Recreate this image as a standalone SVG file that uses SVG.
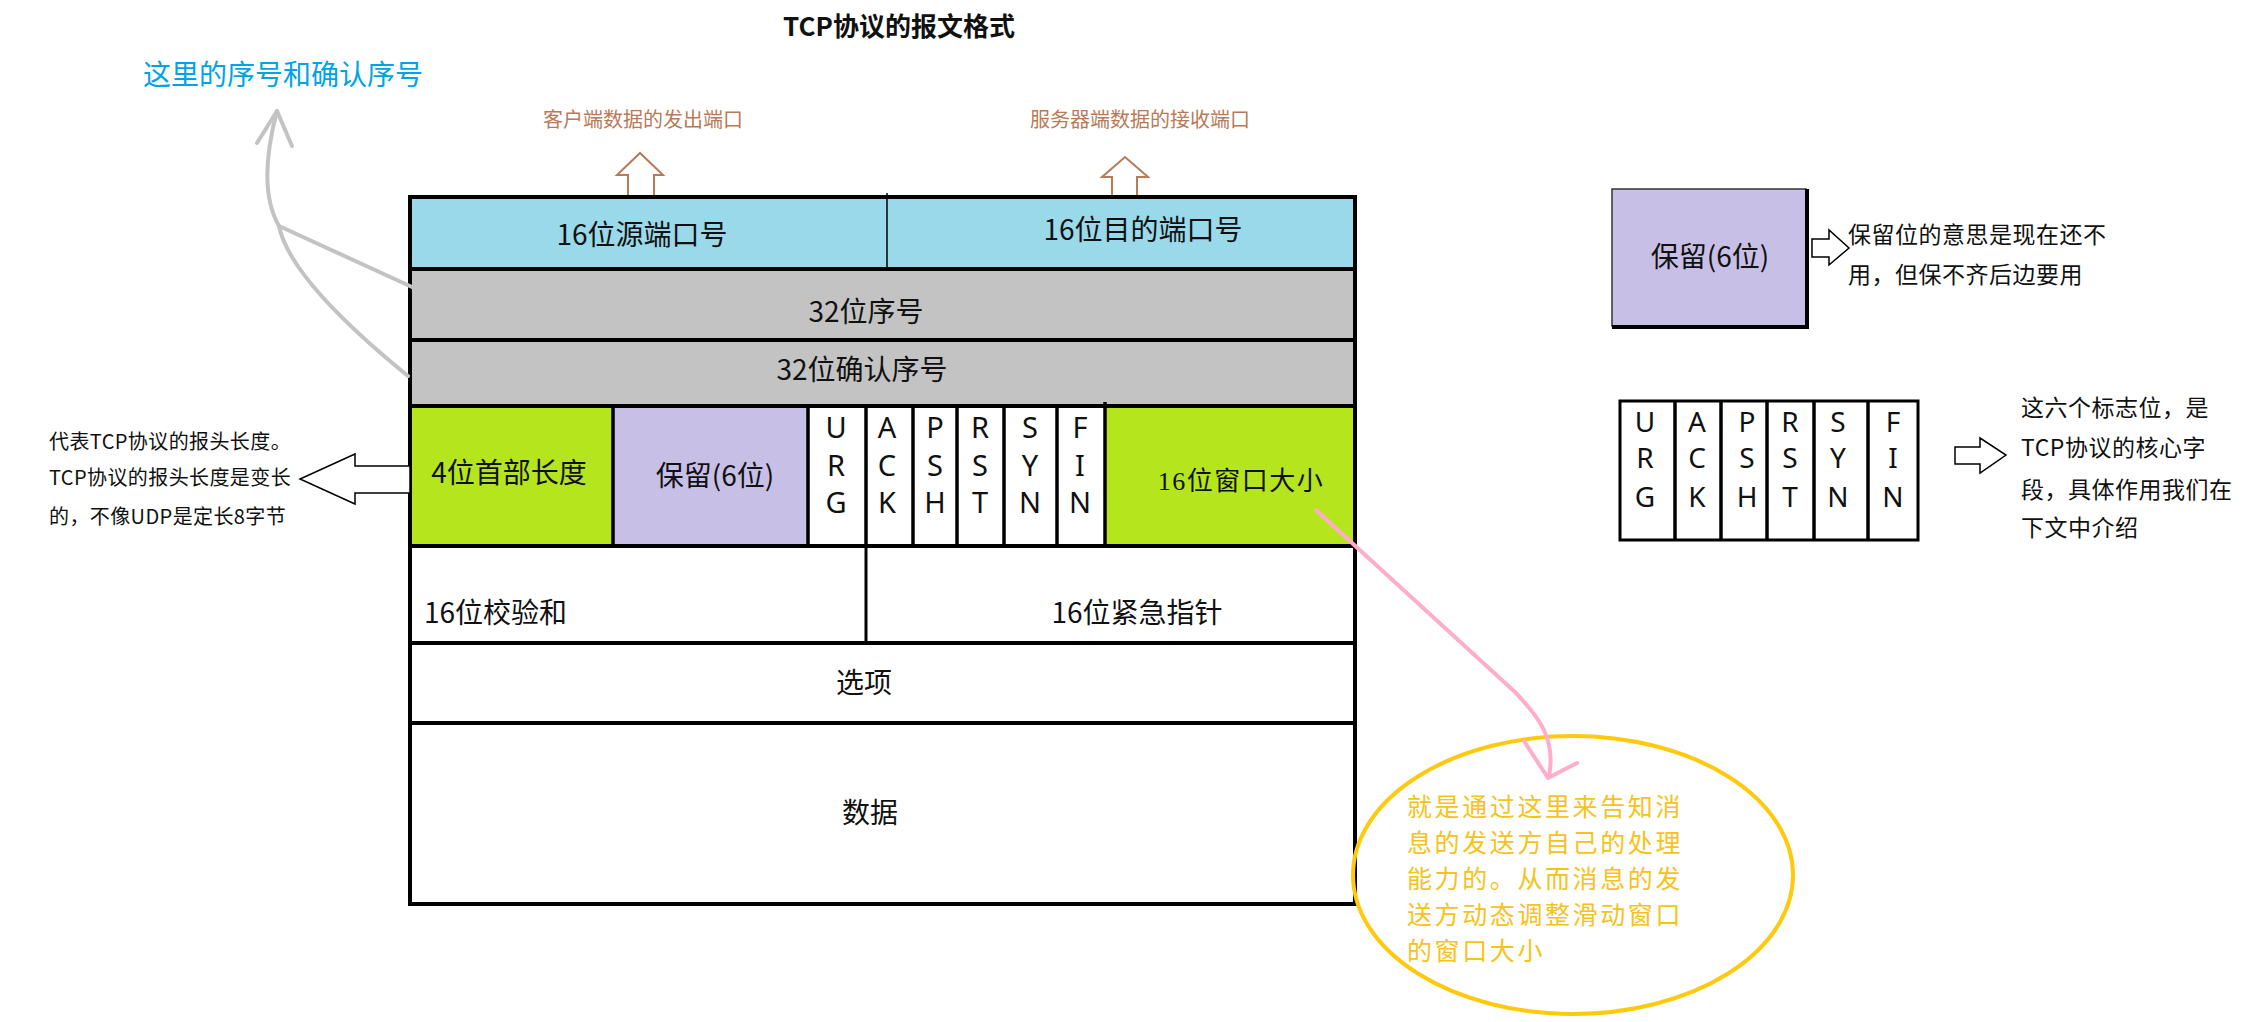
<svg xmlns="http://www.w3.org/2000/svg" width="2248" height="1022" viewBox="0 0 2248 1022">
<style>
  text { font-family: "Noto Sans CJK SC", "Liberation Sans", sans-serif; fill: #111; }
  .lbl { font-size: 28px; }
  .mid { text-anchor: middle; }
  .flag { font-family: "Noto Sans", "Liberation Sans", sans-serif; font-size: 29px; text-anchor: middle; fill: #111; }
  .flag2 { font-family: "Noto Sans", "Liberation Sans", sans-serif; font-size: 28px; text-anchor: middle; fill: #111; }
  .note { font-size: 20px; letter-spacing: 0.4px; }
  .note2 { font-size: 23px; letter-spacing: 0.5px; }
  .port { font-size: 20px; fill: #b97a57; }
  .grid { stroke: #000; stroke-width: 4; fill: none; }
  .vline { stroke: #000; stroke-width: 3.5; }
  .hollow { fill: #fff; stroke: #000; stroke-width: 1.5; }
  .hollowb { fill: #fff; stroke: #b97a57; stroke-width: 2; }
  .gray { fill: none; stroke: #c3c3c3; stroke-width: 4; stroke-linecap: round; stroke-linejoin: round; }
  .pink { fill: none; stroke: #ffaec9; stroke-width: 4; stroke-linecap: round; stroke-linejoin: round; }
  .ell { font-size: 25px; letter-spacing: 2.6px; fill: #f7c21a; }
</style>
<rect width="2248" height="1022" fill="#fff"/>

<g id="title">
  <text x="899" y="36" class="mid" style="font-size:26px;font-weight:bold">TCP协议的报文格式</text>
</g>

<g id="seq-note">
  <text x="143" y="85" style="font-size:28px;fill:#00a2e8">这里的序号和确认序号</text>
</g>

<g id="src-port-note">
  <text x="643" y="127" class="port mid">客户端数据的发出端口</text>
  <polygon class="hollowb" points="628,197 628,175 617,175 640,153 663,175 654,175 654,197"/>
</g>
<g id="dst-port-note">
  <text x="1140" y="127" class="port mid">服务器端数据的接收端口</text>
  <polygon class="hollowb" points="1112,197 1112,177 1102,177 1125,157 1148,177 1137,177 1137,197"/>
</g>

<g id="tcp-header">
  <g id="row-ports">
    <rect x="410" y="197" width="945" height="72" fill="#99d9ea"/>
    <line x1="887" y1="193" x2="887" y2="269" stroke="#000" stroke-width="1.5"/>
    <text x="642" y="245" class="lbl mid">16位源端口号</text>
    <text x="1143" y="240" class="lbl mid">16位目的端口号</text>
  </g>
  <g id="row-seq">
    <rect x="410" y="269" width="945" height="71" fill="#c3c3c3"/>
    <text x="866" y="322" class="lbl mid">32位序号</text>
  </g>
  <g id="row-ack">
    <rect x="410" y="340" width="945" height="66" fill="#c3c3c3"/>
    <text x="862" y="380" class="lbl mid">32位确认序号</text>
  </g>
  <g id="row-flags">
    <rect x="410" y="406" width="203" height="140" fill="#b5e61d"/>
    <rect x="613" y="406" width="195" height="140" fill="#c8bfe7"/>
    <rect x="808" y="406" width="297" height="140" fill="#fff"/>
    <rect x="1105" y="406" width="250" height="140" fill="#b5e61d"/>
    <line class="vline" x1="613" y1="406" x2="613" y2="546"/>
    <line class="vline" x1="808" y1="406" x2="808" y2="546"/>
    <line class="vline" x1="866" y1="406" x2="866" y2="546"/>
    <line class="vline" x1="913" y1="406" x2="913" y2="546"/>
    <line class="vline" x1="957" y1="406" x2="957" y2="546"/>
    <line class="vline" x1="1004" y1="406" x2="1004" y2="546"/>
    <line class="vline" x1="1057" y1="406" x2="1057" y2="546"/>
    <line class="vline" x1="1105" y1="402" x2="1105" y2="546"/>
    <text x="509" y="483" class="lbl mid">4位首部长度</text>
    <text x="715" y="486" class="lbl mid">保留(6位)</text>
    <text class="flag" x="836" y="438">U</text><text class="flag" x="836" y="475.5">R</text><text class="flag" x="836" y="513">G</text>
    <text class="flag" x="887" y="438">A</text><text class="flag" x="887" y="475.5">C</text><text class="flag" x="887" y="513">K</text>
    <text class="flag" x="935" y="438">P</text><text class="flag" x="935" y="475.5">S</text><text class="flag" x="935" y="513">H</text>
    <text class="flag" x="980" y="438">R</text><text class="flag" x="980" y="475.5">S</text><text class="flag" x="980" y="513">T</text>
    <text class="flag" x="1030" y="438">S</text><text class="flag" x="1030" y="475.5">Y</text><text class="flag" x="1030" y="513">N</text>
    <text class="flag" x="1080" y="438">F</text><text class="flag" x="1080" y="475.5">I</text><text class="flag" x="1080" y="513">N</text>
    <text x="1241" y="490" class="mid" style="font-size:26px;font-family:'Liberation Serif','Noto Sans CJK SC',serif;letter-spacing:1.5px">16位窗口大小</text>
  </g>
  <g id="row-checksum">
    <line x1="866" y1="546" x2="866" y2="643" stroke="#000" stroke-width="3"/>
    <text x="424" y="623" class="lbl">16位校验和</text>
    <text x="1137" y="623" class="lbl mid">16位紧急指针</text>
  </g>
  <g id="row-options">
    <text x="864" y="693" class="lbl mid">选项</text>
  </g>
  <g id="row-data">
    <text x="870" y="823" class="lbl mid">数据</text>
  </g>
  <line class="grid" x1="410" y1="269" x2="1355" y2="269"/>
  <line class="grid" x1="410" y1="340" x2="1355" y2="340"/>
  <line class="grid" x1="410" y1="406" x2="1355" y2="406"/>
  <line class="grid" x1="410" y1="546" x2="1355" y2="546"/>
  <line class="grid" x1="410" y1="643" x2="1355" y2="643"/>
  <line class="grid" x1="410" y1="723" x2="1355" y2="723"/>
  <rect class="grid" x="410" y="197" width="945" height="707"/>
</g>

<g id="header-len-note">
  <polygon class="hollow" points="410,466 355,466 355,454 300,479 355,504 355,493 410,493"/>
  <text x="49" y="449" class="note">代表TCP协议的报头长度。</text>
  <text x="49" y="485" class="note">TCP协议的报头长度是变长</text>
  <text x="49" y="524" class="note">的，不像UDP是定长8字节</text>
</g>

<g id="reserved-legend">
  <rect x="1612" y="189" width="194" height="137" fill="#c8bfe7" stroke="#333" stroke-width="1.5"/>
  <polyline points="1807,189 1807,327 1612,327" fill="none" stroke="#000" stroke-width="4"/>
  <text x="1710" y="267" class="lbl mid">保留(6位)</text>
  <polygon class="hollow" points="1812,239 1829,239 1829,230 1849,248 1829,265 1829,257 1812,257"/>
  <text x="1848" y="243" class="note2">保留位的意思是现在还不</text>
  <text x="1848" y="283" class="note2">用，但保不齐后边要用</text>
</g>

<g id="flags-legend">
  <rect x="1620" y="401" width="298" height="139" fill="#fff" stroke="#000" stroke-width="3"/>
  <line class="vline" x1="1675" y1="401" x2="1675" y2="540"/>
  <line class="vline" x1="1721" y1="401" x2="1721" y2="540"/>
  <line class="vline" x1="1767" y1="401" x2="1767" y2="540"/>
  <line class="vline" x1="1814" y1="401" x2="1814" y2="540"/>
  <line class="vline" x1="1868" y1="401" x2="1868" y2="540"/>
  <text class="flag2" x="1645" y="432">U</text><text class="flag2" x="1645" y="468">R</text><text class="flag2" x="1645" y="507">G</text>
  <text class="flag2" x="1697" y="432">A</text><text class="flag2" x="1697" y="468">C</text><text class="flag2" x="1697" y="507">K</text>
  <text class="flag2" x="1747" y="432">P</text><text class="flag2" x="1747" y="468">S</text><text class="flag2" x="1747" y="507">H</text>
  <text class="flag2" x="1790" y="432">R</text><text class="flag2" x="1790" y="468">S</text><text class="flag2" x="1790" y="507">T</text>
  <text class="flag2" x="1838" y="432">S</text><text class="flag2" x="1838" y="468">Y</text><text class="flag2" x="1838" y="507">N</text>
  <text class="flag2" x="1893" y="432">F</text><text class="flag2" x="1893" y="468">I</text><text class="flag2" x="1893" y="507">N</text>
  <polygon class="hollow" points="1955,447 1980,447 1980,438 2006,455 1980,473 1980,464 1955,464"/>
  <text x="2021" y="416" class="note2">这六个标志位，是</text>
  <text x="2021" y="456" class="note2">TCP协议的核心字</text>
  <text x="2021" y="498" class="note2">段，具体作用我们在</text>
  <text x="2021" y="536" class="note2">下文中介绍</text>
</g>

<g id="window-note">
  <ellipse cx="1573" cy="875" rx="220" ry="139" fill="none" stroke="#ffc90e" stroke-width="4"/>
  <text x="1407" y="816" class="ell">就是通过这里来告知消</text>
  <text x="1407" y="852" class="ell">息的发送方自己的处理</text>
  <text x="1407" y="888" class="ell">能力的。从而消息的发</text>
  <text x="1407" y="924" class="ell">送方动态调整滑动窗口</text>
  <text x="1407" y="960" class="ell">的窗口大小</text>
</g>

<g id="connectors">
  <path class="gray" d="M277,111 C264,160 264,200 279,226 L412,287"/>
  <path class="gray" d="M279,226 Q290,280 408,376"/>
  <path class="gray" d="M257,143 L277,111 L292,146"/>
  <path class="pink" d="M1316,510 L1515,692 C1540,718 1556,740 1549,776"/>
  <path class="pink" d="M1524,741 L1548,778 L1577,763"/>
</g>
</svg>
